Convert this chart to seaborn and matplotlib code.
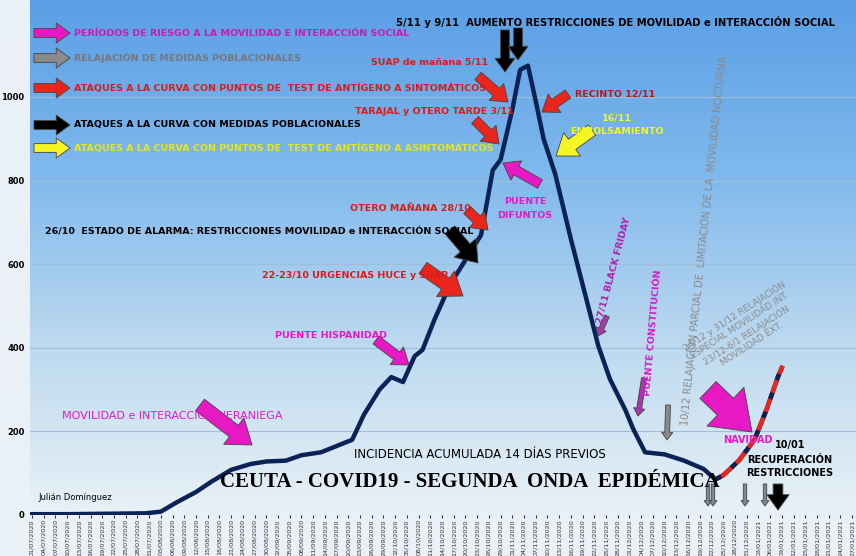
import numpy as np
import pandas as pd
import matplotlib
matplotlib.use("Agg")
import matplotlib.pyplot as plt
import matplotlib.dates as mdates
import seaborn as sns

# datos: incidencia acumulada 14 dias
fechas = ["2020-07-01", "2020-07-10", "2020-07-20", "2020-07-30", "2020-08-03", "2020-08-07",
          "2020-08-12", "2020-08-16", "2020-08-21", "2020-08-26", "2020-08-30", "2020-09-04",
          "2020-09-08", "2020-09-13", "2020-09-17", "2020-09-21", "2020-09-24", "2020-09-28",
          "2020-10-01", "2020-10-04", "2020-10-07", "2020-10-09", "2020-10-12", "2020-10-16",
          "2020-10-20", "2020-10-24", "2020-10-27", "2020-10-29", "2020-11-01", "2020-11-03",
          "2020-11-05", "2020-11-07", "2020-11-09", "2020-11-12", "2020-11-16", "2020-11-20",
          "2020-11-23", "2020-11-26", "2020-11-30", "2020-12-02", "2020-12-05", "2020-12-10",
          "2020-12-15", "2020-12-20", "2020-12-23", "2020-12-25", "2020-12-29", "2021-01-02",
          "2021-01-05", "2021-01-08", "2021-01-09"]
incidencia = [2, 2, 3, 4, 8, 30, 55, 80, 108, 122, 128, 130, 143, 150, 165, 180, 240, 300,
              330, 318, 380, 395, 466, 550, 610, 670, 825, 850, 970, 1065, 1075, 990, 900,
              815, 660, 515, 405, 325, 250, 205, 150, 145, 130, 110, 85, 95, 130, 180, 250,
              330, 352]
fecha_rojo = "2020-12-23"

df = pd.DataFrame({"fecha": pd.to_datetime(fechas), "ia14": incidencia})
rojo = df[df["fecha"] >= fecha_rojo]

W, H = 856, 556
fig = plt.figure(figsize=(W / 100, H / 100), dpi=100)
ax = fig.add_axes([30 / W, 41 / H, 826 / W, 515 / H])

# fondo degradado
grad = np.linspace(0, 1, 256).reshape(-1, 1)
cmap = matplotlib.colors.LinearSegmentedColormap.from_list("bg", ["#e9f1f6", "#bcd9f0", "#7fb8ec", "#5a9fe6"])
ax.imshow(grad, aspect="auto", cmap=cmap, extent=[0, 1, 0, 1], transform=ax.transAxes,
          origin="lower", zorder=0)

sns.lineplot(data=df, x="fecha", y="ia14", ax=ax, color="#0b2257", lw=3.2, zorder=3)
sns.lineplot(data=rojo, x="fecha", y="ia14", ax=ax, color="#e8261c", lw=3.2, zorder=4)
ax.plot(rojo["fecha"], rojo["ia14"], color="#0b2257", lw=3.2, ls=(0, (1.5, 3)), zorder=5)

ax.set_ylim(0, 1232)
ax.set_xlim(pd.Timestamp("2020-06-30 12:00"), pd.Timestamp("2021-01-28"))
ax.set_yticks([0, 200, 400, 600, 800, 1000])
ax.grid(axis="y", color="#9dbfd8", lw=0.8)
ax.set_xticks(pd.date_range("2020-07-01", "2021-01-28", freq="3D"))
ax.xaxis.set_major_formatter(mdates.DateFormatter("%d/%m/%Y"))
ax.tick_params(axis="x", labelrotation=90, labelsize=4.6, colors="#333333", length=2, pad=1)
ax.tick_params(axis="y", labelsize=6, length=0, pad=4)
for t in ax.get_yticklabels():
    t.set_fontweight("bold")
for s in ax.spines.values():
    s.set_visible(False)
ax.set_xlabel("")
ax.set_ylabel("")
fig.patch.set_facecolor("#e9f1f6")


def P(x, y):
    return (x / W, 1 - y / H)


def flecha(x0, y0, x1, y1, color, ancho=1.0):
    ax.annotate("", xy=P(x1, y1), xytext=P(x0, y0), xycoords="figure fraction",
                textcoords="figure fraction", zorder=6,
                arrowprops=dict(arrowstyle=f"simple,head_width={1.6*ancho},head_length={1.1*ancho},tail_width={0.7*ancho}",
                                fc=color, ec="#444444", lw=0.6, shrinkA=0, shrinkB=0))


def texto(x, y, s, color, size=7, ha="left", rot=0, weight="bold", family="DejaVu Sans"):
    fig.text(x / W, 1 - y / H, s, color=color, fontsize=size, ha=ha, va="center",
             rotation=rot, fontweight=weight, family=family, zorder=7)


MAG, RED, GRY, YEL = "#e619c4", "#e8261c", "#8a8a8a", "#f5f523"
# leyenda
leyenda = [(33, MAG, "PERÍODOS DE RIESGO A LA MOVILIDAD E INTERACCIÓN SOCIAL", "#c81cb0"),
           (58, GRY, "RELAJACIÓN DE MEDIDAS POBLACIONALES", "#777777"),
           (88, RED, "ATAQUES A LA CURVA CON PUNTOS DE  TEST DE ANTÍGENO A SINTOMÁTICOS", "#d81c1c"),
           (125, "black", "ATAQUES A LA CURVA CON MEDIDAS POBLACIONALES", "black"),
           (148, YEL, "ATAQUES A LA CURVA CON PUNTOS DE  TEST DE ANTÍGENO A ASINTOMÁTICOS", "#e6e61a")]
for y, c, s, tc in leyenda:
    flecha(34, y, 70, y, c, 0.9)
    texto(74, y, s, tc, 6.8)

texto(615, 22, "5/11 y 9/11  AUMENTO RESTRICCIONES DE MOVILIDAD e INTERACCIÓN SOCIAL", "black", 7.2, "center")
flecha(505, 30, 505, 72, "black", 0.9)
flecha(518, 28, 518, 60, "black", 0.9)
texto(430, 62, "SUAP de mañana 5/11", "#d81c1c", 6.8, "center")
flecha(478, 76, 508, 102, RED)
texto(575, 94, "RECINTO 12/11", "#c0151a", 6.8)
flecha(568, 94, 542, 112, RED)
texto(355, 112, "TARAJAL y OTERO TARDE 3/11", "#d81c1c", 6.8)
flecha(475, 120, 499, 144, RED)
texto(617, 118, "16/11", YEL, 6.8, "center")
texto(617, 131, "EMBOLSAMIENTO", YEL, 6.8, "center")
flecha(592, 130, 556, 156, YEL, 1.3)
flecha(540, 184, 503, 163, MAG)
texto(525, 202, "PUENTE", MAG, 6.8, "center")
texto(525, 215, "DIFUNTOS", MAG, 6.8, "center")
texto(350, 209, "OTERO MAÑANA 28/10", "#d81c1c", 6.8)
flecha(467, 210, 488, 230, RED)
texto(45, 232, "26/10  ESTADO DE ALARMA: RESTRICCIONES MOVILIDAD e INTERACCIÓN SOCIAL", "black", 6.8)
flecha(450, 230, 478, 263, "black", 1.3)
texto(262, 275, "22-23/10 URGENCIAS HUCE y SUAP", "#d81c1c", 6.8)
flecha(423, 268, 463, 296, RED, 1.4)
texto(275, 336, "PUENTE HISPANIDAD", MAG, 6.8)
flecha(376, 340, 409, 365, MAG)
texto(62, 416, "MOVILIDAD e INTERACCIÓN VERANIEGA", MAG, 8, weight="normal")
flecha(200, 405, 252, 445, MAG, 1.5)
texto(613, 270, "27/11 BLACK FRIDAY", "#b51eb0", 6.8, "center", 75)
flecha(607, 316, 598, 336, "#a23aa8", 0.5)
texto(653, 333, "PUENTE CONSTITUCIÓN", "#d81cc8", 6.8, "center", 85)
flecha(644, 378, 638, 416, "#a23aa8", 0.5)
texto(703, 240, "10/12 RELAJACIÓN PARCIAL DE  LIMITACIÓN DE LA  MOVILIDAD NOCTURNA", GRY, 7.2,
      "center", 84, "normal")
flecha(668, 405, 667, 440, GRY, 0.5)
texto(743, 330, "24/12 y 31/12 RELAJACIÓN\nESPECIAL MOVILIDAD INT.\n23/12-6/1 RELAJACIÓN\nMOVILIDAD EXT.",
      GRY, 6.5, "center", 33, "normal")
flecha(708, 390, 752, 432, MAG, 2.4)
texto(723, 440, "NAVIDAD", MAG, 7)
texto(790, 445, "10/01", "black", 7, "center")
texto(790, 460, "RECUPERACIÓN", "black", 7, "center")
texto(790, 473, "RESTRICCIONES", "black", 7, "center")
for x in [708, 713, 745, 765]:
    flecha(x, 484, x, 506, "#7a8a98", 0.35)
flecha(778, 484, 778, 510, "black", 1.0)
texto(480, 455, "INCIDENCIA ACUMULADA 14 DÍAS PREVIOS", "black", 8.5, "center", weight="normal")
texto(470, 482, "CEUTA - COVID19 - SEGUNDA  ONDA  EPIDÉMICA", "black", 15, "center",
      family="Liberation Serif")
texto(38, 497, "Julián Domínguez", "black", 6, weight="normal")

fig.savefig("out.png", dpi=100, facecolor=fig.get_facecolor())
